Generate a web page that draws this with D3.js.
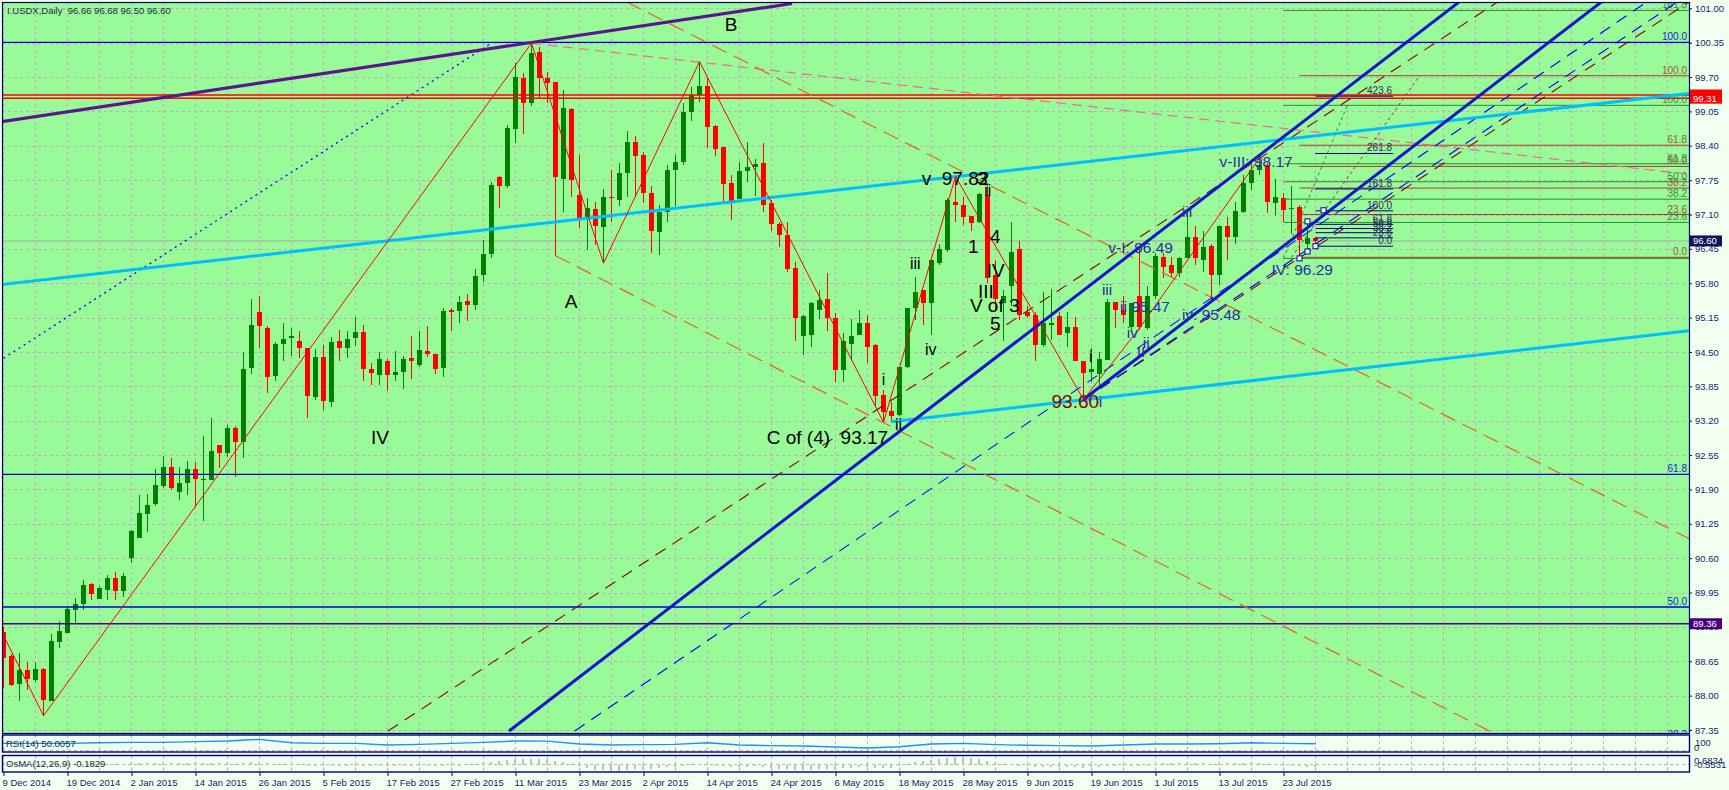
<!DOCTYPE html>
<html><head><meta charset="utf-8">
<script src="https://cdn.jsdelivr.net/npm/d3@7/dist/d3.min.js"></script>
<style>
html,body{margin:0;padding:0;background:#F0FFF0;overflow:hidden}
svg{display:block;font-family:"Liberation Sans",Arial,sans-serif}
.pre{white-space:pre}
</style></head><body>
<svg id="chart" width="1729" height="790"></svg>
<script>
// ---------------- DATA ----------------
const title = "I.USDX,Daily  96.66 96.68 96.50 96.60";
const opens = [89.21,88.75,88.22,88.48,88.29,88.50,87.90,89.02,89.19,89.62,
89.73,90.11,89.82,90.00,90.22,89.97,90.60,90.99,91.43,91.62,
91.97,92.32,91.86,92.02,92.28,92.08,92.08,92.74,92.59,93.07,
92.79,94.20,95.26,94.96,94.05,94.65,94.76,94.70,94.57,93.65,
94.40,93.56,94.70,94.58,94.76,94.88,94.17,94.07,94.33,94.07,
94.13,94.38,94.26,94.51,94.47,94.20,95.29,95.27,95.46,95.39,
95.96,96.35,97.80,97.63,98.71,99.69,99.20,100.18,99.68,99.60,
97.77,99.10,97.47,97.03,97.20,96.87,97.44,97.37,97.89,98.47,
98.23,97.50,96.76,97.15,97.95,98.09,99.03,99.36,99.53,98.77,
98.38,97.69,97.39,97.92,98.00,98.07,97.31,96.92,96.71,96.08,
94.80,94.82,95.30,95.50,95.15,94.15,94.66,94.82,95.04,94.63,
93.69,93.38,93.31,94.22,95.33,95.67,95.42,96.18,96.43,97.34,
97.28,97.07,96.96,97.47,95.96,95.42,95.74,96.44,95.25,95.20,
94.63,95.01,95.18,94.85,94.98,94.32,94.13,94.08,94.35,95.45,
95.29,94.98,95.55,94.95,95.55,96.29,96.14,95.99,96.27,96.68,
96.24,96.50,95.96,96.88,96.68,97.15,97.69,97.94,98.04,97.32,
97.42,97.20,97.25,96.55,96.66];
const highs = [89.30,88.78,88.80,88.64,88.64,88.52,89.17,89.41,89.69,89.85,
90.19,90.13,90.07,90.28,90.34,90.32,91.13,91.80,91.81,92.28,
92.53,92.50,92.33,92.43,92.41,92.92,93.25,92.74,93.11,93.10,
94.50,95.51,95.56,95.00,94.68,95.04,94.96,94.90,94.58,94.55,
94.63,94.79,94.92,94.90,95.16,95.01,94.30,94.49,94.36,94.51,
94.43,94.80,94.90,94.99,94.47,95.34,95.34,95.55,95.59,96.07,
96.61,97.71,97.83,98.79,99.97,99.77,100.34,100.26,99.80,99.61,
99.46,99.11,98.23,97.41,97.33,97.58,97.94,98.08,98.67,98.59,
98.29,97.63,97.28,98.04,98.23,99.20,99.51,99.99,99.68,98.79,
98.38,97.85,98.10,98.48,98.15,98.45,97.37,96.95,96.95,96.20,
95.20,95.45,95.67,95.99,95.23,94.85,95.12,95.29,95.20,94.66,
93.78,93.56,94.22,95.34,95.92,95.67,96.24,96.55,97.41,97.82,
97.44,97.07,97.50,97.63,96.24,95.67,96.95,96.59,95.36,95.26,
95.64,95.70,95.26,95.26,95.17,94.32,94.58,94.49,95.51,95.45,
95.55,95.42,96.49,95.74,96.37,96.37,96.30,96.30,97.15,96.88,
96.78,96.55,96.88,97.06,97.34,97.85,98.10,98.17,98.07,97.78,
97.50,97.63,97.28,96.95,96.68];
const lows = [88.15,88.18,87.90,88.11,88.26,87.62,87.89,88.91,89.18,89.35,
89.62,89.80,89.82,89.80,89.80,89.87,90.51,90.99,91.09,91.59,
91.92,91.89,91.70,91.79,91.59,91.31,92.07,92.30,92.52,92.14,
92.49,94.09,94.58,93.72,93.96,94.33,94.43,94.38,93.25,93.60,
93.40,93.46,94.33,94.39,94.61,93.96,93.88,93.88,93.77,93.95,
93.80,93.99,94.21,94.40,94.08,94.03,94.90,95.04,95.09,95.29,
95.83,96.28,97.23,97.61,98.46,98.62,99.15,99.28,99.20,96.32,
97.15,97.44,96.84,96.42,96.52,96.18,96.95,97.27,97.44,97.44,
97.31,96.37,96.33,96.95,97.26,98.04,98.86,99.23,98.36,98.21,
97.31,97.00,97.39,97.71,97.45,97.15,96.78,96.48,96.02,94.70,
94.44,94.60,95.12,94.90,93.93,93.94,94.35,94.82,94.29,93.47,
93.17,93.18,93.28,94.19,95.10,95.01,94.82,96.15,96.40,96.96,
96.90,96.78,96.93,95.80,95.29,94.70,95.36,95.10,95.14,94.32,
94.60,94.73,94.82,94.60,94.32,93.60,93.94,93.84,94.35,94.95,
95.04,94.92,94.92,94.92,95.51,95.89,95.92,95.92,96.27,96.15,
96.02,95.48,95.77,96.24,96.55,97.12,97.56,97.85,97.12,97.09,
96.96,96.74,96.29,96.43,96.50];
const closes = [88.72,88.20,88.48,88.31,88.50,87.92,89.03,89.22,89.64,89.73,
90.09,89.93,90.04,90.22,89.97,90.26,91.11,91.46,91.61,91.99,
92.32,91.92,92.02,92.28,92.10,92.10,92.63,92.59,93.07,92.79,
94.18,95.01,95.00,94.03,94.65,94.75,94.80,94.58,93.67,94.41,
93.58,94.68,94.58,94.75,94.88,94.18,94.10,94.36,94.07,94.13,
94.37,94.33,94.53,94.47,94.18,95.28,95.26,95.45,95.39,95.94,
96.35,97.66,97.63,98.74,99.71,99.20,100.16,99.69,99.58,97.80,
99.11,97.75,97.03,97.22,96.89,97.44,97.41,97.88,98.47,98.21,
97.50,96.78,97.15,97.95,98.09,99.03,99.36,99.53,98.76,98.34,
97.68,97.34,97.92,98.00,98.06,97.28,96.92,96.71,96.07,95.15,
95.18,95.43,95.48,95.15,94.15,94.70,94.80,95.04,94.60,93.66,
93.37,93.28,94.22,95.34,95.63,95.42,96.24,96.45,97.37,97.28,
97.06,96.93,97.49,95.89,95.51,95.55,96.40,95.20,95.18,94.63,
95.04,95.04,94.83,94.97,94.32,94.11,94.18,94.36,95.45,95.29,
95.20,95.42,94.98,95.55,96.32,96.11,96.00,96.27,96.68,96.27,
96.49,95.96,96.88,96.68,97.17,97.69,97.94,98.04,97.34,97.44,
97.19,97.23,96.62,96.65,96.60];

const dateLabels = ["9 Dec 2014","19 Dec 2014","2 Jan 2015","14 Jan 2015","26 Jan 2015","5 Feb 2015","17 Feb 2015","27 Feb 2015","11 Mar 2015","23 Mar 2015","2 Apr 2015","14 Apr 2015","24 Apr 2015","6 May 2015","18 May 2015","28 May 2015","9 Jun 2015","19 Jun 2015","1 Jul 2015","13 Jul 2015","23 Jul 2015"];
const dateBars = [0,8,16,24,32,40,48,56,64,72,80,88,96,104,112,120,128,136,144,152,160];
const priceTicks = [101.00,100.35,99.70,99.05,98.40,97.75,97.10,96.45,95.80,95.15,94.50,93.85,93.20,92.55,91.90,91.25,90.60,89.95,89.30,88.65,88.00,87.35];

const rsiBars = [0,4,8,12,16,20,24,28,32,36,40,44,48,52,56,60,64,68,72,76,80,84,88,92,96,100,104,108,112,116,120,124,128,132,136,140,144,148,152,156,160,164];
const rsiValues = [52,52,52,56,58,58,63,67,77,56,52,52,42,46,52,58,67,66,48,42,44,46,56,42,38,36,29,23,31,48,52,44,40,38,36,42,48,48,50,56,52,50];
const osmaValues = [-0.05,-0.06,-0.07,-0.07,-0.06,-0.08,-0.05,-0.03,
0.00,0.02,0.04,0.05,0.06,0.07,0.07,0.08,
0.10,0.12,0.13,0.14,0.15,0.14,0.13,0.13,
0.12,0.11,0.11,0.10,0.10,0.08,0.12,0.17,
0.16,0.10,0.07,0.05,0.03,0.01,-0.04,-0.06,
-0.09,-0.08,-0.09,-0.09,-0.08,-0.11,-0.13,-0.13,
-0.14,-0.14,-0.13,-0.12,-0.11,-0.10,-0.11,-0.05,
-0.02,0.00,0.02,0.06,0.12,0.24,0.29,0.36,
0.43,0.44,0.47,0.45,0.42,0.26,0.22,0.06,
-0.14,-0.30,-0.42,-0.47,-0.52,-0.50,-0.42,-0.36,
-0.33,-0.35,-0.30,-0.22,-0.16,-0.07,0.02,0.07,
0.03,-0.04,-0.13,-0.18,-0.17,-0.16,-0.15,-0.21,
-0.29,-0.34,-0.39,-0.45,-0.44,-0.40,-0.35,-0.32,
-0.34,-0.29,-0.24,-0.19,-0.19,-0.24,-0.26,-0.24,
-0.14,0.03,0.17,0.26,0.37,0.46,0.54,0.58,
0.55,0.50,0.46,0.30,0.15,0.06,0.06,-0.06,
-0.11,-0.16,-0.16,-0.16,-0.17,-0.16,-0.20,-0.24,
-0.22,-0.20,-0.11,-0.07,-0.05,-0.03,-0.05,0.00,
0.07,0.10,0.10,0.10,0.12,0.10,0.10,0.05,
0.09,0.09,0.12,0.14,0.16,0.15,0.07,0.04,
-0.01,-0.05,-0.13,-0.16,-0.18];

// trend lines as [bar, price] anchor pairs
const purpleTrend = [[-0.44,98.85],[98.56,101.09]];
const blueDotted = [[0,94.38],[61.06,100.35]];
const skyUpper = [[-0.44,95.77],[210.7,99.39]];
const skyLower = [[111,93.18],[210.7,94.90]];
const channelA = [[63.2,87.33],[182.3,101.16]];
const channelB = [[135,93.60],[200,101.15]];
const brownDash1 = [[48.06,87.33],[186.76,101.12]];
const blueDash1 = [[71.4,87.33],[205.4,101.12]];
const brownDash2 = [[135,93.60],[210.7,101.12]];
const blueDash2 = [[135,93.60],[209.2,101.12]];
const pinkDash = [[66,100.34],[210.7,97.86]];
const orangeDash1 = [[77.9,101.12],[210.7,90.97]];
const orangeDash2 = [[69,96.32],[186,87.31]];
const greenDot = [[160,96.27],[168,99.17]];
const brownDot = [[161,96.29],[177,99.725]];
const zigzag = [[0,89.14],[5,87.62],[66,100.34],[75,96.18],[87,99.99],[110,93.17],[119,97.82],[135,93.60],[142,94.95],[157,98.17]];
const markerPts = [[162,96.27],[163,96.40],[164,96.50],[163,96.97],[165,97.18]];

const redLevels = [99.36, 99.30];
const redLevelTags = ["99.36","99.31"];
const purpleLevel = 89.36;
const currentPrice = 96.60;

const blueFibNames = ["100.0","61.8","50.0","38.2"];
const blueFibPrices = [100.357,92.186,89.676,87.17];
const brownFibNames = ["100.0","61.8","50.0","38.2","23.6","0.0"];
const brownFibPrices = [99.725,98.41,98.01,97.60,97.10,96.29];
const greenFibNames = ["161.8","100.0","61.8","50.0","38.2","23.6","0.0"];
const greenFibPrices = [100.96,99.165,98.06,97.72,97.39,96.95,96.27];
const navyFibNames = ["423.6","261.8","161.8","100.0","61.8","50.0","38.2","23.6","0.0"];
const navyFibPrices = [99.338,98.254,97.584,97.17,96.914,96.835,96.756,96.658,96.50];

const waveText = ["B","A","IV","C of (4)  93.17","i","ii","iii","iv","v  97.82","3","ii","1","4","IV","III","V of 3","5","i","93.60","i","iii","ii 95.47","iv","ii","II","v-I: 96.49","iii","iv: 95.48","v-III: 98.17","IV: 96.29"];
const waveBar = [90.15,70.15,45.94,95.4,109.78,111.44,113.31,115.19,114.78,121.7,122.6,120.56,123.3,122.9,121.8,120.8,123.3,135.7,131.0,136.9,137.3,139.56,140.4,142.4,141.65,138.1,147.3,147.3,152.0,158.5];
const wavePrice = [100.57,95.337,92.759,92.759,93.875,93.024,96.065,94.44,97.658,97.658,97.45,96.372,96.56,95.918,95.52,95.256,94.915,94.31,93.434,93.459,95.576,95.256,94.764,94.575,94.405,96.366,97.06,95.105,98.004,95.955];
const waveKind = ["big","big","big","big","small","small","small","small","big","big","small","big","big","big","big","big","big","small","red","navy","navy","navy","navy","navy","navy","navy","navy","navy","navy","navy"];

// ---------------- DRAW ----------------
const svg = d3.select("#chart");
const P = {l:2, t:2, r:1689, b:733};
const x = d3.scaleLinear().domain([0,164]).range([3.5,1315.5]);
const y = d3.scaleLinear().domain([87.35,101.00]).range([730,8.3]);
const rsiY = d3.scaleLinear().domain([0,100]).range([751.7,735.7]);
const osY = d3.scaleLinear().domain([-0.5531,0.6834]).range([771.5,756]);
const line = d3.line().x(d=>x(d[0])).y(d=>y(d[1]));

svg.append("rect").attr("width",1729).attr("height",790).attr("fill","#F0FFF0");
const defs = svg.append("defs");
defs.append("clipPath").attr("id","pc").append("rect").attr("x",P.l).attr("y",P.t).attr("width",P.r-P.l).attr("height",P.b-P.t);
defs.append("clipPath").attr("id","rc").append("rect").attr("x",P.l).attr("y",735).attr("width",P.r-P.l).attr("height",17);

svg.append("rect").attr("x",P.l).attr("y",P.t).attr("width",P.r-P.l).attr("height",P.b-P.t).attr("fill","#98FB98");

const main = svg.append("g").attr("clip-path","url(#pc)");

// grid
const gridBars = d3.range(0, 212, 4);
main.append("g").selectAll("line").data(priceTicks).join("line")
  .attr("x1",P.l).attr("x2",P.r).attr("y1",d=>Math.round(y(d))+0.5).attr("y2",d=>Math.round(y(d))+0.5)
  .attr("stroke","#c6a6c8").attr("stroke-dasharray","3,3");
main.append("g").selectAll("line").data(gridBars).join("line")
  .attr("y1",P.t).attr("y2",P.b).attr("x1",d=>Math.floor(x(d))+0.5).attr("x2",d=>Math.floor(x(d))+0.5)
  .attr("stroke","#c6a6c8").attr("stroke-dasharray","3,3");

// current price line
main.append("line").attr("x1",P.l).attr("x2",P.r).attr("y1",y(currentPrice)).attr("y2",y(currentPrice)).attr("stroke","#a8a8a8").attr("stroke-width",1);

// candles
const idx = d3.range(opens.length);
const cg = main.append("g").attr("shape-rendering","crispEdges");
cg.selectAll("line").data(idx).join("line")
  .attr("x1",i=>Math.floor(x(i))+0.5).attr("x2",i=>Math.floor(x(i))+0.5)
  .attr("y1",i=>y(highs[i])).attr("y2",i=>y(lows[i]))
  .attr("stroke",i=>closes[i]>=opens[i]?"#008000":"#FF0000");
cg.selectAll("rect").data(idx).join("rect")
  .attr("x",i=>Math.floor(x(i))-2).attr("width",5)
  .attr("y",i=>y(Math.max(opens[i],closes[i])))
  .attr("height",i=>Math.max(1,Math.abs(y(opens[i])-y(closes[i]))))
  .attr("fill",i=>closes[i]>=opens[i]?"#008000":"#FF0000");

// horizontal levels
function hline(p, color, w, x1, x2){
  main.append("line").attr("x1",x1===undefined?P.l:x1).attr("x2",x2===undefined?P.r:x2)
   .attr("y1",y(p)).attr("y2",y(p)).attr("stroke",color).attr("stroke-width",w);
}
blueFibPrices.forEach(p=>hline(p,"#0000DD",1.3));
redLevels.forEach(p=>hline(p,"#FF0000",1.4));
hline(purpleLevel,"#4B0082",1.4);
brownFibPrices.forEach(p=>hline(p,"#B03A2E",1,x(162)));
greenFibPrices.forEach(p=>hline(p,"#2E8B2E",1,x(160)));
navyFibPrices.forEach(p=>hline(p,"#000080",1,x(164),x(173.7)));

// fib labels
function fibLabels(names, prices, color, xr){
  main.append("g").selectAll("text").data(names).join("text")
   .attr("x",xr).attr("y",(d,i)=>y(prices[i])-2).attr("text-anchor","end")
   .attr("font-size",10).attr("fill",color).text(d=>d);
}
fibLabels(blueFibNames, blueFibPrices, "#1a1ad8", 1687);
fibLabels(brownFibNames, brownFibPrices, "#9a5a30", 1687);
fibLabels(greenFibNames.slice(0,6), greenFibPrices.slice(0,6), "#3c8c3c", 1687);
fibLabels(navyFibNames, navyFibPrices, "#2a2a5a", x(173.7)-1);

// trend lines
function tl(pts, color, w, dash){
  const p = main.append("path").attr("d",line(pts)).attr("fill","none").attr("stroke",color).attr("stroke-width",w);
  if(dash) p.attr("stroke-dasharray",dash);
  return p;
}
tl(pinkDash,"#ee6a96",1.2,"10,6");
tl(orangeDash1,"#e8602c",1.2,"16,8");
tl(orangeDash2,"#e8602c",1.2,"16,8");
tl(brownDash1,"#8B0000",1.1,"12,8");
tl(brownDash2,"#8B0000",1.1,"12,8");
tl(blueDash1,"#0000FF",1.1,"12,8");
tl(blueDash2,"#0000FF",1.1,"12,8");
tl(blueDotted,"#0000FF",1.3,"2,4");
tl(greenDot,"#2E8B2E",1,"3,3");
tl(brownDot,"#A52A2A",1,"3,3");
tl(skyUpper,"#00BFFF",3);
tl(skyLower,"#00BFFF",3);
tl(purpleTrend,"#5a168c",3.2);
tl(channelA,"#1515CC",3);
tl(channelB,"#1515CC",3);
tl(zigzag,"#FF0000",1);

// markers
main.append("g").selectAll("rect").data(markerPts).join("rect")
  .attr("x",d=>x(d[0])-2.5).attr("y",d=>y(d[1])-2.5).attr("width",5).attr("height",5)
  .attr("fill","#ffffff").attr("stroke","#0000AA").attr("stroke-width",1);

// wave labels
const kindStyle = {big:{s:19,c:"#000000"}, small:{s:16,c:"#000000"}, red:{s:19,c:"#8B0000"}, navy:{s:15.5,c:"#2b2ba6"}};
main.append("g").selectAll("text").data(waveText).join("text")
  .attr("class","pre")
  .attr("x",(d,i)=>x(waveBar[i])).attr("y",(d,i)=>y(wavePrice[i]))
  .attr("font-size",(d,i)=>kindStyle[waveKind[i]].s)
  .attr("fill",(d,i)=>kindStyle[waveKind[i]].c)
  .text(d=>d);

// title
svg.append("text").attr("class","pre").attr("x",7).attr("y",14).attr("font-size",9.5).attr("fill","#1e2a48").text(title);

// plot border
svg.append("rect").attr("x",P.l+0.5).attr("y",P.t+0.5).attr("width",P.r-P.l).attr("height",P.b-P.t)
  .attr("fill","none").attr("stroke","#000070").attr("stroke-width",1.2);

// price axis
const ya = svg.append("g").attr("transform",`translate(${P.r},0)`)
  .call(d3.axisRight(y).tickValues(priceTicks).tickSize(3).tickPadding(3).tickFormat(d3.format(".2f")));
ya.select(".domain").remove();
ya.selectAll("line").attr("stroke","#000070");
ya.selectAll("text").attr("font-size",9.5).attr("fill","#1c1c6b").attr("font-family","Liberation Sans, Arial");

// price tags
function tag(p, txt, bg){
  const yy = y(p);
  svg.append("rect").attr("x",1690).attr("y",yy-5.5).attr("width",32).attr("height",11).attr("fill",bg);
  svg.append("text").attr("x",1693).attr("y",yy+3.5).attr("font-size",9.5).attr("fill","#ffffff").text(txt);
}
tag(redLevels[0], redLevelTags[0], "#FF0000");
tag(redLevels[1], redLevelTags[1], "#FF0000");
tag(currentPrice, currentPrice.toFixed(2), "#14145c");
tag(purpleLevel, purpleLevel.toFixed(2), "#4B0082");

// ---- RSI panel ----
svg.append("g").selectAll("line").data(gridBars).join("line")
  .attr("y1",735).attr("y2",752).attr("x1",d=>Math.floor(x(d))+0.5).attr("x2",d=>Math.floor(x(d))+0.5)
  .attr("stroke","#b4b4b4").attr("stroke-dasharray","3,3");
svg.append("line").attr("x1",P.l).attr("x2",P.r).attr("y1",750.5).attr("y2",750.5).attr("stroke","#b4b4b4").attr("stroke-dasharray","3,3");
svg.append("path").attr("clip-path","url(#rc)")
  .attr("d", d3.line().x((d,i)=>x(rsiBars[i])).y(d=>rsiY(d))(rsiValues))
  .attr("fill","none").attr("stroke","#1E90FF").attr("stroke-width",1.4);
svg.append("rect").attr("x",P.l+0.5).attr("y",735).attr("width",P.r-P.l).attr("height",17)
  .attr("fill","none").attr("stroke","#000070").attr("stroke-width",1.4);
svg.append("text").attr("class","pre").attr("x",6).attr("y",747).attr("font-size",9.5).attr("fill","#1c2a48").text("RSI(14) 50.0057");
svg.append("text").attr("x",1695).attr("y",746).attr("font-size",9.5).attr("fill","#1c1c6b").text("100");
svg.append("text").attr("x",1694).attr("y",751).attr("font-size",9.5).attr("fill","#1c1c6b").text("0");

// ---- OsMA panel ----
svg.append("g").selectAll("line").data(gridBars).join("line")
  .attr("y1",755.5).attr("y2",772).attr("x1",d=>Math.floor(x(d))+0.5).attr("x2",d=>Math.floor(x(d))+0.5)
  .attr("stroke","#b4b4b4").attr("stroke-dasharray","3,3");
svg.append("line").attr("x1",P.l).attr("x2",P.r).attr("y1",osY(0)).attr("y2",osY(0)).attr("stroke","#b4b4b4").attr("stroke-dasharray","3,3");
svg.append("g").attr("shape-rendering","crispEdges").selectAll("rect").data(osmaValues).join("rect")
  .attr("x",(d,i)=>Math.floor(x(i))-1).attr("width",2)
  .attr("y",d=>Math.min(osY(d),osY(0))).attr("height",d=>Math.max(1,Math.abs(osY(d)-osY(0))))
  .attr("fill","#C0C0C0");
svg.append("rect").attr("x",P.l+0.5).attr("y",755.5).attr("width",P.r-P.l).attr("height",16.5)
  .attr("fill","none").attr("stroke","#000070").attr("stroke-width",1.4);
svg.append("text").attr("class","pre").attr("x",6).attr("y",767).attr("font-size",9.5).attr("fill","#1c2a48").text("OsMA(12,26,9) -0.1829");
svg.append("text").attr("x",1694).attr("y",764).attr("font-size",9.5).attr("fill","#1c1c6b").text("0.6834");
svg.append("text").attr("x",1694).attr("y",768).attr("font-size",9.5).attr("fill","#1c1c6b").text("-0.5531");

// date axis
const xa = svg.append("g").attr("transform","translate(0,772)")
  .call(d3.axisBottom(x).tickValues(dateBars).tickSize(4).tickPadding(3).tickFormat((d,i)=>dateLabels[i]));
xa.select(".domain").remove();
xa.selectAll("line").attr("stroke","#000070");
xa.selectAll("text").attr("text-anchor","start").attr("dx",-1.5).attr("font-size",9.5).attr("fill","#1c1c6b").attr("font-family","Liberation Sans, Arial");
</script></body></html>
